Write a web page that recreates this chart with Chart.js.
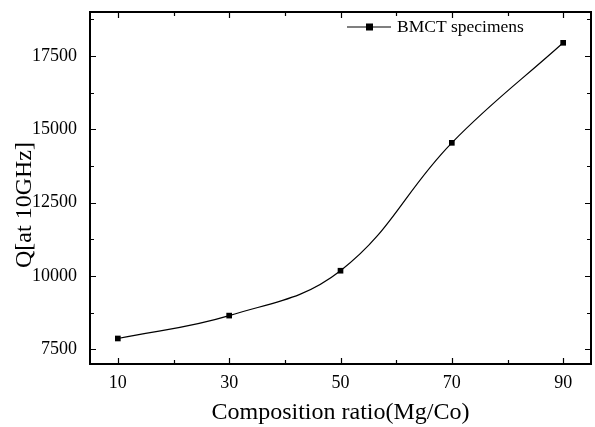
<!DOCTYPE html>
<html>
<head>
<meta charset="utf-8">
<script src="https://cdn.jsdelivr.net/npm/chart.js@4"></script>
<style>
  html, body { margin: 0; padding: 0; background: #fff; }
  #wrap { width: 595px; height: 427px; }
</style>
</head>
<body>
<div id="wrap"><canvas id="qChart" width="595" height="427"></canvas></div>
<script>
// data
const ratios = [10, 30, 50, 70, 90];
const qValues = [7870, 8650, 10180, 14540, 17950];

const xMajor = [10, 30, 50, 70, 90];
const xMinor = [20, 40, 60, 80];
const yMajor = [7500, 10000, 12500, 15000, 17500];
const yMinor = [8750, 11250, 13750, 16250, 18750];

const seriesName = "BMCT specimens";
const yTitle = "Q[at 10GHz]";
const xTitle = "Composition ratio(Mg/Co)";
const FONT = "'Liberation Serif', 'Times New Roman', serif";

// inward ticks, frame, y title and legend drawn by hand
const decor = {
    id: "decor",
    afterDraw(c) {
        const ctx = c.ctx;
        const a = c.chartArea;
        const xs = c.scales.x, ys = c.scales.y;
        ctx.save();
        ctx.strokeStyle = "#000";
        ctx.lineWidth = 1.2;
        ctx.beginPath();
        const tickX = (vals, len) => vals.forEach(v => {
            const px = Math.round(xs.getPixelForValue(v)) + 0.5;
            ctx.moveTo(px, a.bottom); ctx.lineTo(px, a.bottom - len);
            ctx.moveTo(px, a.top); ctx.lineTo(px, a.top + len);
        });
        const tickY = (vals, len) => vals.forEach(v => {
            const py = Math.round(ys.getPixelForValue(v)) + 0.5;
            ctx.moveTo(a.left, py); ctx.lineTo(a.left + len, py);
            ctx.moveTo(a.right, py); ctx.lineTo(a.right - len, py);
        });
        tickX(xMajor, 6); tickX(xMinor, 4);
        tickY(yMajor, 6); tickY(yMinor, 4);
        ctx.stroke();

        // frame
        ctx.lineWidth = 2;
        ctx.strokeRect(a.left, a.top, a.right - a.left, a.bottom - a.top);

        // y title, sits a bit low like the original
        ctx.fillStyle = "#000";
        ctx.font = "24px " + FONT;
        ctx.textAlign = "center";
        ctx.textBaseline = "middle";
        ctx.translate(25, 205);
        ctx.rotate(-Math.PI / 2);
        ctx.fillText(yTitle, 0, 0);
        ctx.setTransform(1, 0, 0, 1, 0, 0);

        // legend
        const lx = a.right - 244, ly = a.top + 15;
        ctx.lineWidth = 1.2;
        ctx.beginPath();
        ctx.moveTo(lx, ly); ctx.lineTo(lx + 44, ly);
        ctx.stroke();
        ctx.fillRect(lx + 19, ly - 3.5, 7, 7);
        ctx.font = "17.5px " + FONT;
        ctx.textAlign = "left";
        ctx.fillText(seriesName, lx + 50, ly);
        ctx.restore();
    }
};

const ctx = document.getElementById("qChart").getContext("2d");
new Chart(ctx, {
    type: "line",
    data: {
        labels: ratios,
        datasets: [{
            label: seriesName,
            data: ratios.map((r, i) => ({ x: r, y: qValues[i] })),
            borderColor: "#000",
            backgroundColor: "#000",
            borderWidth: 1.2,
            tension: 0.4,
            pointStyle: "rect",
            pointRadius: 4,
            pointBorderWidth: 0
        }]
    },
    options: {
        responsive: false,
        animation: false,
        layout: { padding: { top: 12, right: 3, left: 0, bottom: 0 } },
        plugins: { legend: { display: false }, tooltip: { enabled: false } },
        scales: {
            x: {
                type: "linear",
                min: 5,
                max: 95,
                afterBuildTicks: s => { s.ticks = xMajor.map(v => ({ value: v })); },
                afterFit: s => { s.height = 63; s.paddingLeft = 0; s.paddingRight = 0; },
                grid: { display: false },
                border: { display: false },
                ticks: {
                    color: "#000",
                    padding: 0,
                    font: { family: FONT, size: 18 },
                    maxRotation: 0,
                    callback: v => String(v)
                },
                title: {
                    display: true,
                    text: xTitle,
                    color: "#000",
                    font: { family: FONT, size: 24 },
                    padding: { top: 4, bottom: 0 }
                }
            },
            y: {
                min: 7000,
                max: 19000,
                afterBuildTicks: s => { s.ticks = yMajor.map(v => ({ value: v })); },
                afterFit: s => { s.width = 90; s.paddingTop = 0; s.paddingBottom = 0; },
                grid: { display: false },
                border: { display: false },
                ticks: {
                    color: "#000",
                    padding: 5,
                    font: { family: FONT, size: 18 },
                    callback: v => String(v)
                }
            }
        }
    },
    plugins: [decor]
});
</script>
</body>
</html>
